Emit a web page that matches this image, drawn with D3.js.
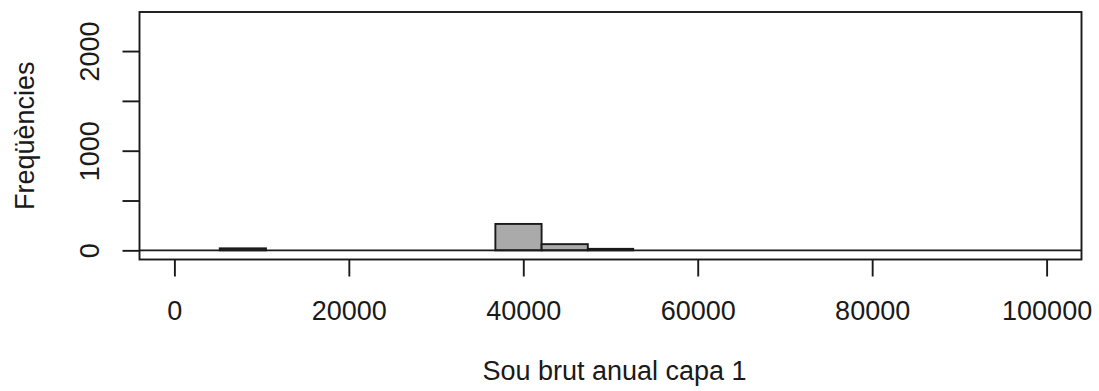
<!DOCTYPE html>
<html>
<head>
<meta charset="utf-8">
<script src="https://cdn.jsdelivr.net/npm/d3@7"></script>
<style>
  html, body { margin: 0; padding: 0; background: #fff; }
  svg { display: block; }
  text { font-family: "Liberation Sans", Arial, sans-serif; fill: #1a1a1a; }
</style>
</head>
<body>
<svg id="chart" width="1099" height="391"></svg>
<script>
// Histogram bins: lower edge, upper edge, count
const binStart = [5200, 36800, 42100, 47400];
const binEnd   = [10500, 42100, 47400, 52600];
const counts   = [20, 265, 62, 15];

const xTicks = [0, 20000, 40000, 60000, 80000, 100000];
const yTicks = [0, 500, 1000, 1500, 2000];
const yLabelled = [0, 1000, 2000];

const xTitle = "Sou brut anual capa 1";
const yTitle = "Freqüències";

const svg = d3.select("#chart");
const plot = { left: 139.5, right: 1081.5, top: 12, bottom: 259.5 };

// Limits padded by 4% on each side
const x = d3.scaleLinear().domain([-4000, 104000]).range([plot.left, plot.right]);
const y = d3.scaleLinear().domain([-92, 2392]).range([plot.bottom, plot.top]);

const ink = "#1a1a1a";
const lw = 1.9;
const fontSize = 27;
const fontFamily = "'Liberation Sans', Arial, sans-serif";

// Bars
const bins = counts.map((c, i) => ({ x0: binStart[i], x1: binEnd[i], n: c }));
svg.append("g").selectAll("rect").data(bins).join("rect")
  .attr("x", d => x(d.x0))
  .attr("width", d => x(d.x1) - x(d.x0))
  .attr("y", d => y(d.n))
  .attr("height", d => y(0) - y(d.n))
  .attr("fill", "#aaaaaa")
  .attr("stroke", ink)
  .attr("stroke-width", lw);

// Zero reference line across the plot region
svg.append("line")
  .attr("x1", plot.left).attr("x2", plot.right)
  .attr("y1", y(0)).attr("y2", y(0))
  .attr("stroke", ink).attr("stroke-width", lw);

// Box around the plot region
svg.append("rect")
  .attr("x", plot.left).attr("y", plot.top)
  .attr("width", plot.right - plot.left).attr("height", plot.bottom - plot.top)
  .attr("fill", "none").attr("stroke", ink).attr("stroke-width", lw);

// X axis
const gx = svg.append("g")
  .attr("transform", `translate(0,${plot.bottom})`)
  .call(d3.axisBottom(x).tickValues(xTicks).tickSize(17).tickFormat(d3.format("d")));
gx.select(".domain").remove();
gx.selectAll(".tick line").attr("stroke", ink).attr("stroke-width", lw);
gx.selectAll(".tick text")
  .attr("y", 60.5).attr("dy", 0)
  .attr("fill", ink)
  .style("font-size", fontSize + "px")
  .style("font-family", fontFamily);

// Y axis with vertical labels
const gy = svg.append("g")
  .attr("transform", `translate(${plot.left},0)`)
  .call(d3.axisLeft(y).tickValues(yTicks).tickSize(17)
    .tickFormat(d => yLabelled.includes(d) ? String(d) : ""));
gy.select(".domain").remove();
gy.selectAll(".tick line").attr("stroke", ink).attr("stroke-width", lw);
gy.selectAll(".tick text")
  .attr("transform", "rotate(-90)")
  .attr("x", 0).attr("y", -41).attr("dy", 0)
  .attr("text-anchor", "middle")
  .attr("fill", ink)
  .style("font-size", fontSize + "px")
  .style("font-family", fontFamily);

// Axis titles
svg.append("text")
  .attr("x", (plot.left + plot.right) / 2 + 4)
  .attr("y", 380)
  .attr("text-anchor", "middle")
  .style("font-size", fontSize + "px")
  .text(xTitle);

svg.append("text")
  .attr("transform", `translate(33.5,${(plot.top + plot.bottom) / 2}) rotate(-90)`)
  .attr("text-anchor", "middle")
  .style("font-size", fontSize + "px")
  .text(yTitle);
</script>
</body>
</html>
